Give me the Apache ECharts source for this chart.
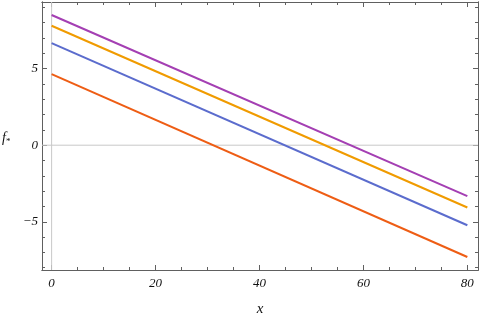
<!DOCTYPE html>
<html>
<head>
<meta charset="utf-8">
<script src="https://cdn.jsdelivr.net/npm/echarts@6/dist/echarts.min.js"></script>
<style>
  html, body { margin: 0; padding: 0; background: #fff; }
  #chart { width: 480px; height: 316px; }
</style>
</head>
<body>
<div id="chart"></div>
<script>
  // data (straight lines, value at x=0 and x=80)
  var xs = [0, 80];
  var purple = [8.5, -3.33];
  var orange = [7.8, -4.07];
  var blue = [6.67, -5.23];
  var red = [4.64, -7.3];
  var colors = ['#a43fb3', '#f09b00', '#5b6ccd', '#ee5d14'];

  var xMajor = [0, 20, 40, 60, 80];
  var xMinor = [5, 10, 15, 25, 30, 35, 45, 50, 55, 65, 70, 75];
  var yMajor = [-5, 0, 5];
  var yMinor = [-8, -7, -6, -4, -3, -2, -1, 1, 2, 3, 4, 6, 7, 8, 9];

  var xMin = -1.85, xMax = 82.05;
  var yMin = -8.15, yMax = 9.35;
  var frameColor = '#606060';
  var labelFont = { fontFamily: 'Liberation Serif', fontStyle: 'italic', fontSize: 13, color: '#111' };

  function mkX(pos, ticks, len, showLabel) {
    return {
      type: 'value', position: pos, min: xMin, max: xMax,
      axisLine: { show: true, onZero: false, lineStyle: { color: frameColor, width: 1 } },
      axisTick: { show: true, inside: true, length: len, customValues: ticks, lineStyle: { color: frameColor } },
      axisLabel: Object.assign({ show: showLabel, customValues: ticks, margin: 7 }, labelFont),
      splitLine: { show: false }
    };
  }
  function mkY(pos, ticks, len, showLabel) {
    return {
      type: 'value', position: pos, min: yMin, max: yMax,
      axisLine: { show: true, onZero: false, lineStyle: { color: frameColor, width: 1 } },
      axisTick: { show: true, inside: true, length: len, customValues: ticks, lineStyle: { color: frameColor } },
      axisLabel: Object.assign({
        show: showLabel, customValues: ticks, margin: 4,
        formatter: function (v) { return v < 0 ? '\u2212' + (-v) : String(v); }
      }, labelFont),
      splitLine: { show: false }
    };
  }

  var xAxes = [
    mkX('bottom', xMajor, 5, true),
    mkX('bottom', xMinor, 3, false),
    mkX('top', xMajor, 5, false),
    mkX('top', xMinor, 3, false)
  ];
  xAxes[0].name = 'x';
  xAxes[0].nameLocation = 'middle';
  xAxes[0].nameGap = 32;
  xAxes[0].nameTextStyle = { fontFamily: 'Liberation Serif', fontStyle: 'italic', fontSize: 15, color: '#111' };

  var yAxes = [
    mkY('left', yMajor, 5, true),
    mkY('left', yMinor, 3, false),
    mkY('right', yMajor, 5, false),
    mkY('right', yMinor, 3, false)
  ];

  function line(vals, i) {
    return {
      type: 'line', xAxisIndex: 0, yAxisIndex: 0,
      data: xs.map(function (x, k) { return [x, vals[k]]; }),
      showSymbol: false, symbol: 'none', silent: true, animation: false,
      lineStyle: { color: colors[i], width: 2 },
      z: 5
    };
  }

  var series = [line(purple, 0), line(orange, 1), line(blue, 2), line(red, 3)];
  // light axes through the origin
  series.push({
    type: 'line', xAxisIndex: 0, yAxisIndex: 0, symbol: 'none', silent: true, animation: false,
    data: [[xMin, 0], [xMax, 0]], lineStyle: { color: '#c8c8c8', width: 1 }, z: 1
  });
  series.push({
    type: 'line', xAxisIndex: 0, yAxisIndex: 0, symbol: 'none', silent: true, animation: false,
    data: [[0, yMin], [0, yMax]], lineStyle: { color: '#c8c8c8', width: 1 }, z: 1
  });

  var chart = echarts.init(document.getElementById('chart'), null, { renderer: 'canvas' });
  chart.setOption({
    animation: false,
    backgroundColor: '#fff',
    grid: { left: 42, right: 2, top: 2, bottom: 46, containLabel: false, outerBoundsMode: 'none' },
    xAxis: xAxes,
    yAxis: yAxes,
    series: series,
    graphic: [{
      type: 'text', left: 2, top: 131,
      style: {
        text: '{f|f}{s|*}',
        rich: {
          f: { fontFamily: 'Liberation Serif', fontStyle: 'italic', fontSize: 14, fill: '#111' },
          s: { fontFamily: 'Liberation Serif', fontSize: 9, fill: '#111', padding: [8, 0, 0, 0] }
        }
      }
    }]
  });
</script>
</body>
</html>
